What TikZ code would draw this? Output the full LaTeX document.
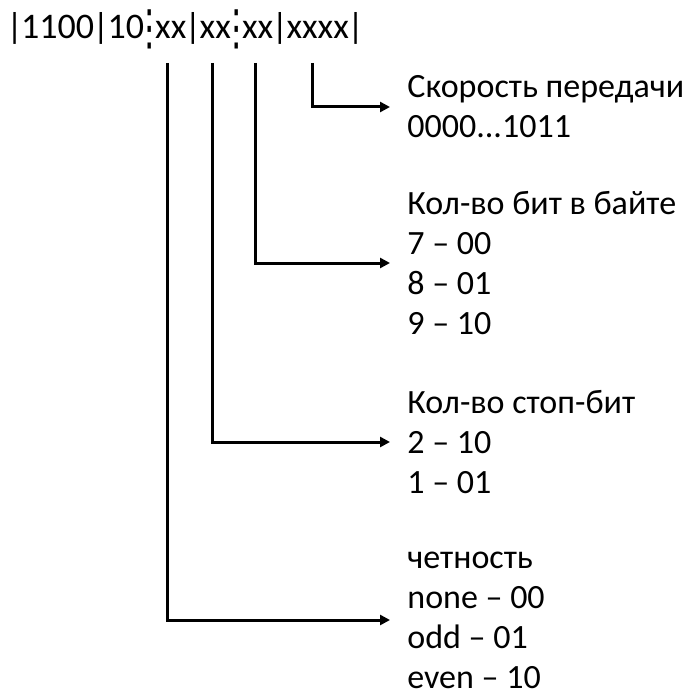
\documentclass[tikz,border=0pt]{standalone}
\usepackage{fontspec}
\usepackage{graphicx}
\setmainfont{Carlito}
\newfontfamily\dotsfont{DejaVu Sans}
\usetikzlibrary{arrows.meta}
\tikzset{
  feed/.style={line width=1.5pt, -{Triangle[length=5pt,width=5pt]}},
  field/.style={anchor=west, align=left, inner xsep=8.5pt, inner ysep=0pt,
    font=\fontsize{17pt}{20pt}\selectfont},
}
\newcommand{\vsep}{\makebox[0.31em]{\raisebox{-0.15em}{\scalebox{0.9}[1.35]{\dotsfont ⋮}}}}
\newcommand{\bsep}{\makebox[0.37em]{|}}
\begin{document}
\begin{tikzpicture}
    \useasboundingbox (0pt,0pt) rectangle (347pt,-347.5pt);
    % frame word
    \node[anchor=base west, inner sep=0pt, font=\fontsize{18pt}{21pt}\selectfont] (frame) at (3.75pt,-19.5pt) {\bsep 1100\bsep 10\vsep xx\bsep xx\vsep xx\bsep xxxx\bsep};
    \coordinate (par) at (83.5pt,-31.5pt);
    \coordinate (stop) at (106pt,-31.5pt);
    \coordinate (bits) at (127.5pt,-31.5pt);
    \coordinate (speed) at (156pt,-31.5pt);
    % descriptions
    \node[field] (spd) at (195pt,-53.5pt) {Скорость передачи\\0000...1011};
    \node[field] (len) at (195pt,-131.5pt) {Кол-во бит в байте\\7 -- 00\\8 -- 01\\9 -- 10};
    \node[field] (stp) at (195pt,-221pt) {Кол-во стоп-бит\\2 -- 10\\1 -- 01};
    \node[field] (prt) at (195pt,-310pt) {четность\\none -- 00\\odd -- 01\\even -- 10};
    % arrows
    \draw[feed] (speed) |- (spd.west);
    \draw[feed] (bits) |- (len.west);
    \draw[feed] (stop) |- (stp.west);
    \draw[feed] (par) |- (prt.west);
\end{tikzpicture}
\end{document}
